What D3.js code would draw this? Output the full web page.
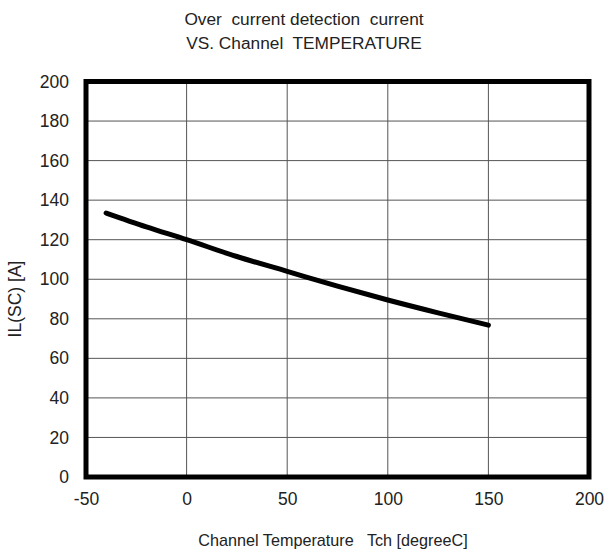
<!DOCTYPE html>
<html><head><meta charset="utf-8">
<script src="https://cdn.jsdelivr.net/npm/d3@7"></script>
<style>body{margin:0;background:#fff}svg{display:block}text{font-family:"Liberation Sans",Arial,sans-serif;fill:#222}</style>
</head><body><div id="c"></div>
<script>
const titleLines = ["Over  current detection  current", "VS. Channel  TEMPERATURE"];
const xLabel = "Channel Temperature   Tch [degreeC]";
const yLabel = "IL(SC) [A]";
const xTicks = [-50, 0, 50, 100, 150, 200];
const yTicks = [0, 20, 40, 60, 80, 100, 120, 140, 160, 180, 200];
const temps = [-40, -20, 0, 25, 50, 75, 100, 125, 150];
const current = [133.5, 126.5, 120, 111.5, 104, 96.5, 89.5, 83, 76.8];

const W = 607, H = 554;
const m = {left: 86, right: 589, top: 81.5, bottom: 477};
const FONT = '"Liberation Sans",Arial,sans-serif';
const svg = d3.select("#c").append("svg").attr("width", W).attr("height", H);
const x = d3.scaleLinear().domain([-50, 200]).range([m.left, m.right]);
const y = d3.scaleLinear().domain([0, 200]).range([m.bottom, m.top]);

// grid
svg.append("g").selectAll("line").data(xTicks).join("line")
  .attr("x1", d => x(d)).attr("x2", d => x(d)).attr("y1", m.top).attr("y2", m.bottom)
  .attr("stroke", "#555").attr("stroke-width", 1);
svg.append("g").selectAll("line").data(yTicks).join("line")
  .attr("x1", m.left).attr("x2", m.right).attr("y1", d => y(d)).attr("y2", d => y(d))
  .attr("stroke", "#555").attr("stroke-width", 1);

// axes tick labels
const xa = svg.append("g").attr("transform", `translate(0,${m.bottom})`)
  .call(d3.axisBottom(x).tickValues(xTicks).tickFormat(d => String(d)).tickSize(0).tickPadding(16));
xa.select(".domain").remove();
xa.selectAll("text").attr("font-size", 17.5).attr("fill", "#222").attr("font-family", FONT);
const ya = svg.append("g").attr("transform", `translate(${m.left},0)`)
  .call(d3.axisLeft(y).tickValues(yTicks).tickFormat(d => String(d)).tickSize(0).tickPadding(17));
ya.select(".domain").remove();
ya.selectAll("text").attr("font-size", 17.5).attr("fill", "#222").attr("font-family", FONT);

// frame
svg.append("rect").attr("x", m.left).attr("y", m.top)
  .attr("width", m.right - m.left).attr("height", m.bottom - m.top)
  .attr("fill", "none").attr("stroke", "#000").attr("stroke-width", 5);

// curve
const line = d3.line().x((d, i) => x(temps[i])).y(d => y(d)).curve(d3.curveMonotoneX);
svg.append("path").datum(current).attr("d", line)
  .attr("fill", "none").attr("stroke", "#000").attr("stroke-width", 5).attr("stroke-linecap", "round");

// titles
svg.append("g").selectAll("text").data(titleLines).join("text")
  .attr("x", 304).attr("y", (d, i) => 25 + i * 24).attr("text-anchor", "middle")
  .attr("font-size", 17.3).style("white-space", "pre").text(d => d);
svg.append("text").attr("x", 333).attr("y", 546).attr("text-anchor", "middle")
  .attr("font-size", 16.2).style("white-space", "pre").text(xLabel);
svg.append("text").attr("transform", `translate(21,${299}) rotate(-90)`)
  .attr("text-anchor", "middle").attr("font-size", 17.5).style("white-space", "pre").text(yLabel);
</script></body></html>
